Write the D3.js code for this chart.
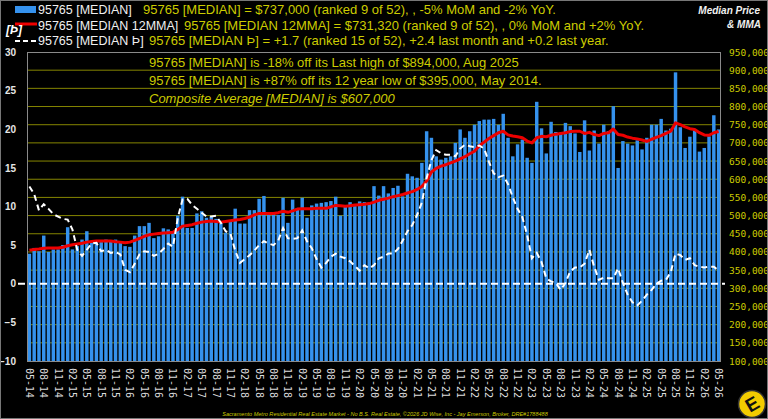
<!DOCTYPE html>
<html><head><meta charset="utf-8">
<script src="https://cdn.jsdelivr.net/npm/d3@7"></script>
<style>html,body{margin:0;padding:0;background:#000;}svg{display:block}</style>
</head><body>
<svg id="c" width="768" height="419"></svg>
<script>
// ---- data ----
const medianPrice = [395000,411000,402000,445000,400000,407000,407000,419000,468000,407000,416000,434000,
457000,427000,430000,427000,434000,430000,434000,427000,416000,414000,445000,471000,
471000,480000,438000,443000,465000,462000,453000,500000,552000,466000,466000,506000,
512000,494000,498000,491000,485000,453000,485000,519000,478000,478000,515000,515000,
546000,554000,506000,506000,502000,549000,480000,544000,521000,549000,494000,528000,
533000,535000,537000,540000,552000,500000,526000,537000,526000,539000,537000,535000,
581000,555000,581000,561000,576000,582000,553000,615000,608000,604000,645000,732000,
714000,663000,654000,659000,663000,700000,737000,714000,732000,750000,760000,764000,
764000,766000,750000,780000,714000,663000,696000,709000,659000,645000,813000,740000,
671000,758000,730000,728000,755000,746000,726000,675000,762000,679000,734000,698000,
750000,732000,801000,631000,705000,698000,693000,707000,682000,714000,750000,750000,
766000,734000,739000,894000,743000,686000,717000,734000,676000,686000,718000,776000,737000];

const mma12 = [405000,407000,408000,410000,411000,411000,411000,413000,417000,420000,422000,424000,
427000,429000,430000,430000,430000,430000,428000,427000,425000,427000,432000,437000,
443000,447000,449000,451000,452000,453000,454000,462000,471000,473000,475000,479000,
482000,484000,485000,484000,482000,484000,486000,488000,489000,492000,496000,502000,
506000,506000,506000,506000,508000,512000,509000,513000,518000,519000,519000,519000,
520000,520000,520000,524000,528000,527000,526000,527000,529000,530000,531000,533000,
537000,542000,545000,548000,552000,555000,558000,562000,566000,572000,580000,595000,
620000,630000,636000,640000,645000,650000,656000,662000,670000,677000,692000,702000,
712000,720000,728000,732000,722000,719000,717000,714000,705000,700000,714000,718000,
717000,721000,724000,726000,728000,731000,732000,732000,726000,729000,723000,720000,
726000,728000,738000,723000,721000,716000,713000,711000,708000,704000,710000,715000,
720000,726000,732000,755000,750000,744000,739000,737000,728000,722000,721000,728000,731320];

const thornIndex = [12.6,11.6,9.5,10.3,9.7,9.0,8.7,8.4,8.3,7.0,4.4,3.6,
4.4,5.2,5.3,4.2,4.4,4.0,4.1,3.8,1.8,1.5,2.6,3.8,
4.2,4.1,3.6,3.9,4.5,5.2,4.8,8.5,10.9,11.0,10.2,9.7,
9.2,8.7,8.7,8.8,7.9,6.8,6.5,4.3,2.7,3.2,3.7,4.3,
5.0,5.5,5.2,5.0,5.6,7.2,5.9,5.8,5.9,6.9,5.5,4.6,
3.2,2.1,2.7,3.5,3.9,3.5,3.3,2.9,2.3,1.7,2.4,2.0,
2.4,3.3,3.5,3.9,3.9,4.5,5.6,6.8,7.6,8.9,10.5,13.7,
16.0,17.3,16.9,16.7,16.7,16.5,17.5,18.0,17.8,17.7,17.9,17.5,
15.8,14.3,13.8,14.0,12.9,11.2,9.7,8.6,6.3,3.3,4.0,2.8,
0.7,0.3,0.1,-0.8,0.1,1.6,2.1,2.1,2.6,4.4,2.2,0.5,
0.8,0.7,0.7,2.0,0.1,-1.4,-2.4,-2.8,-2.2,-1.4,-0.8,0.0,
0.4,0.5,1.5,3.9,3.7,3.1,3.3,2.4,2.2,2.1,2.2,2.2,1.7];

const xTickLabels = ["05-14","08-14","11-14","02-15","05-15","08-15","11-15","02-16","05-16","08-16","11-16",
"02-17","05-17","08-17","11-17","02-18","05-18","08-18","11-18","02-19","05-19","08-19","11-19",
"02-20","05-20","08-20","11-20","02-21","05-21","08-21","11-21","02-22","05-22","08-22","11-22",
"02-23","05-23","08-23","11-23","02-24","05-24","08-24","11-24","02-25","05-25","08-25","11-25",
"02-26","05-26"];
const rightTicks = [100000,150000,200000,250000,300000,350000,400000,450000,500000,550000,
600000,650000,700000,750000,800000,850000,900000,950000];
const leftTicks = [-10,-5,0,5,10,15,20,25,30];

const legendItems = ["95765 [MEDIAN]","95765 [MEDIAN 12MMA]","95765 [MEDIAN \u00DE]"];
const legendNotes = [
 "95765 [MEDIAN] = $737,000 (ranked 9 of 52), , -5% MoM and -2% YoY.",
 "95765 [MEDIAN 12MMA] = $731,320 (ranked 9 of 52), , 0% MoM and +2% YoY.",
 "95765 [MEDIAN \u00DE] = +1.7 (ranked 15 of 52), +2.4 last month and +0.2 last year."];
const infoLines = [
 "95765 [MEDIAN] is -18% off its Last high of $894,000, Aug 2025",
 "95765 [MEDIAN] is +87% off its 12 year low of $395,000, May 2014.",
 "Composite Average [MEDIAN] is $607,000"];
const footer = "Sacramento Metro Residential Real Estate Market - No B.S. Real Estate, \u00A92026 JD Wise, Inc - Jay Emerson, Broker, DRE#1788488";

// ---- drawing ----
const svg = d3.select("#c");
const W = 768, H = 419;
const L = 27, R = 721, T = 52, B = 361;
const BAR = "#3592ee", YEL = "#cccc00", GRID = "#858500";
const SANS = "'Liberation Sans', Arial, sans-serif", MONO = "'DejaVu Sans Mono', monospace";

svg.append("rect").attr("width", W).attr("height", H).attr("fill", "#000");

const idx = d3.range(medianPrice.length);
const x = d3.scaleBand().domain(idx).range([L, R]).paddingInner(0.28).paddingOuter(0.14);
const cx = i => x(i) + x.bandwidth() / 2;
const yR = d3.scaleLinear().domain([100000, 950000]).range([B, T]);
const yL = d3.scaleLinear().domain([-10, 30]).range([B, T]);

// grid lines
svg.append("g").selectAll("line").data(rightTicks.slice(1, -1)).join("line")
  .attr("x1", L).attr("x2", R).attr("y1", d => yR(d)).attr("y2", d => yR(d))
  .attr("stroke", GRID).attr("stroke-width", 1);

// bars
svg.append("g").selectAll("rect").data(medianPrice).join("rect")
  .attr("x", (d, i) => x(i)).attr("width", x.bandwidth())
  .attr("y", d => yR(d)).attr("height", d => yR(100000) - yR(d))
  .attr("fill", BAR);

// frame
svg.append("rect").attr("x", L + 0.5).attr("y", T + 0.5).attr("width", R - L - 1).attr("height", B - T)
  .attr("fill", "none").attr("stroke", "#8a8a8a").attr("stroke-width", 1);

// info lines inside plot
const info = svg.append("g");
infoLines.forEach((t, k) => {
  info.append("text").attr("x", 149).attr("y", 67 + k * 18)
    .attr("font-family", SANS).attr("font-size", 13).attr("fill", YEL)
    .attr("font-style", k === 2 ? "italic" : "normal").text(t);
});

// zero line for the index
svg.append("line").attr("x1", 18).attr("x2", 725).attr("y1", yL(0)).attr("y2", yL(0))
  .attr("stroke", "#fff").attr("stroke-width", 2).attr("stroke-dasharray", "7,4");

// 12MMA line
svg.append("path").datum(mma12)
  .attr("d", d3.line().x((d, i) => cx(i)).y(d => yR(d)))
  .attr("fill", "none").attr("stroke", "#ee0000").attr("stroke-width", 3).attr("stroke-linejoin", "round");

// index line
svg.append("path").datum(thornIndex)
  .attr("d", d3.line().x((d, i) => cx(i)).y(d => yL(d)))
  .attr("fill", "none").attr("stroke", "#fff").attr("stroke-width", 2).attr("stroke-dasharray", "6,4");

// left axis
const ga = svg.append("g").attr("transform", `translate(${L},0)`)
  .call(d3.axisLeft(yL).tickValues(leftTicks).tickSize(0).tickPadding(11).tickFormat(d3.format("d")));
ga.select(".domain").remove();
ga.selectAll("text").attr("font-family", SANS).attr("font-size", 10).attr("font-weight", "bold").attr("fill", "#e6e6e6");

// right axis
const gr = svg.append("g").attr("transform", `translate(${R},0)`)
  .call(d3.axisRight(yR).tickValues(rightTicks).tickSize(0).tickPadding(8).tickFormat(d3.format(",")));
gr.select(".domain").remove();
gr.selectAll("text").attr("font-family", MONO).attr("font-size", 9.5).attr("fill", YEL);

// x axis
const tickIdx = xTickLabels.map((d, k) => k * 3);
const gx = svg.append("g").attr("transform", `translate(0,${B})`)
  .call(d3.axisBottom(x).tickValues(tickIdx).tickSize(0).tickFormat((d, k) => xTickLabels[k]));
gx.select(".domain").remove();
gx.selectAll("text").attr("transform", "rotate(90)").attr("x", 7).attr("y", 0).attr("dy", "0.35em")
  .attr("text-anchor", "start").attr("font-family", MONO).attr("font-size", 10).attr("fill", "#dcdcdc");

// legend
const lg = svg.append("g");
lg.append("rect").attr("x", 15).attr("y", 6).attr("width", 21).attr("height", 7).attr("fill", BAR);
lg.append("line").attr("x1", 15).attr("x2", 37).attr("y1", 24).attr("y2", 24).attr("stroke", "#ee0000").attr("stroke-width", 3);
lg.append("line").attr("x1", 15).attr("x2", 37).attr("y1", 41).attr("y2", 41).attr("stroke", "#fff").attr("stroke-width", 2).attr("stroke-dasharray", "5,3");
lg.append("text").attr("x", 6).attr("y", 34).attr("font-family", SANS).attr("font-size", 12)
  .attr("font-weight", "bold").attr("font-style", "italic").attr("fill", "#fff").text("[\u00DE]");
const rowY = [14, 29.5, 45];
const noteX = [143, 184, 149];
const itemEnd = [133, 180, 145];
legendItems.forEach((t, k) => {
  const tx = lg.append("text").attr("x", 38).attr("y", rowY[k]).attr("font-family", SANS)
    .attr("font-size", 12.5).attr("fill", "#f0f0f0").text(t);
  const w = tx.node().getComputedTextLength();
  const target = itemEnd[k] - 38;
  if (w > target) tx.attr("textLength", target).attr("lengthAdjust", "spacingAndGlyphs");
  lg.append("text").attr("x", noteX[k]).attr("y", rowY[k]).attr("font-family", SANS)
    .attr("font-size", 13).attr("fill", YEL).text(legendNotes[k]);
});

// title top right
svg.append("text").attr("x", 760).attr("y", 14).attr("text-anchor", "end").attr("font-family", SANS)
  .attr("font-size", 10).attr("font-weight", "bold").attr("font-style", "italic").attr("fill", "#f0f0f0").text("Median Price");
svg.append("text").attr("x", 761).attr("y", 28).attr("text-anchor", "end").attr("font-family", SANS)
  .attr("font-size", 10).attr("font-weight", "bold").attr("font-style", "italic").attr("fill", "#f0f0f0").text("& MMA");

// footer
const ft = svg.append("text").attr("x", 385).attr("y", 416).attr("text-anchor", "middle")
  .attr("font-family", SANS).attr("font-size", 6).attr("font-style", "italic").attr("fill", YEL).text(footer);
const fw = ft.node().getComputedTextLength();
if (fw > 0) ft.attr("font-size", 6 * 326 / fw);

// logo
const logo = svg.append("g").attr("transform", "translate(752,404)");
logo.append("circle").attr("r", 13.5).attr("fill", "#f3cc00").attr("stroke", "#333").attr("stroke-width", 1.5);
logo.append("text").attr("text-anchor", "middle").attr("dy", "0.36em").attr("transform", "rotate(-30)")
  .attr("font-family", SANS).attr("font-weight", "bold").attr("font-size", 19).attr("fill", "#111").text("E");

// outer border
svg.append("rect").attr("x", 0.5).attr("y", 0.5).attr("width", W - 1).attr("height", H - 1)
  .attr("fill", "none").attr("stroke", "#777").attr("stroke-width", 1);
</script>
</body></html>
